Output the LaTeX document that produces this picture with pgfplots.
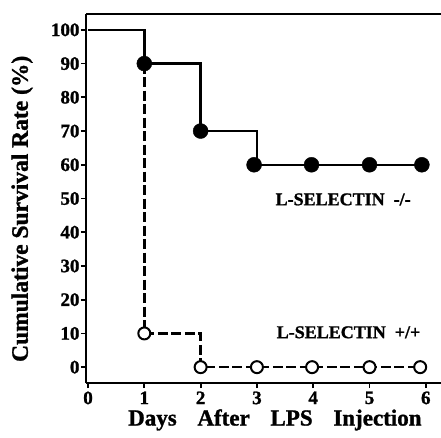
\documentclass[border=0pt]{standalone}
\usepackage{fontspec}
\setmainfont{Liberation Serif}[BoldFeatures={FakeBold=1.2}]
\usepackage{pgfplots}
\pgfplotsset{compat=1.18}

\begin{document}
\begin{tikzpicture}
\useasboundingbox (-86pt,-54pt) rectangle (355pt,383pt);
\begin{axis}[
  at={(0,0)}, anchor=south west,
  scale only axis, width=355pt, height=369pt,
  xmin=-0.036, xmax=6.27, ymin=-4.7, ymax=104.7,
  axis x line=box, axis y line=left,
  axis line style={-, line width=2.2pt},
  xtick={0,1,2,3,4,5,6}, ytick={0,10,...,100},
  xtick pos=lower, ytick pos=left,
  tick align=outside, major tick length=5pt,
  tick style={line width=1.8pt, black},
  /pgf/number format/assume math mode=true,
  ticklabel style={font=\bfseries\fontsize{19}{19}\selectfont},
  yticklabel style={xshift=2pt},
  xlabel={Days\hspace{0.9em}After\hspace{0.9em}LPS\hspace{0.9em}Injection},
  ylabel={Cumulative Survival Rate (\%)},
  xlabel style={font=\bfseries\fontsize{23}{23}\selectfont, at={(axis description cs:0.532,-0.1)}, anchor=center},
  ylabel style={font=\bfseries\fontsize{23.5}{23.5}\selectfont, at={(axis description cs:-0.18,0.472)}, anchor=center},
  clip=false,
]
% L-selectin -/- step line
\addplot[black, line width=2.4pt] coordinates {
  (0,100) (1,100) (1,90) (2,90) (2,70) (3,70) (3,60) (5.93,60)
};
% L-selectin +/+ step line
\addplot[black, line width=2.4pt, dash pattern=on 10pt off 3.5pt] coordinates {
  (1,90) (1,10) (2,10) (2,0) (5.9,0)
};
\addplot[only marks, mark=*, mark size=7.5pt, black, fill=black] coordinates {
  (1,90) (2,70) (2.95,60) (3.97,60) (5,60) (5.93,60)
};
\addplot[only marks, mark=*, mark size=6pt, black, fill=white, line width=2pt] coordinates {
  (1,10) (2,0) (3,0) (3.98,0) (5,0) (5.9,0)
};
\node[anchor=base west, font=\bfseries\fontsize{18}{18}\selectfont] at (axis cs:3.27,48) {L-SELECTIN\hspace{0.5em}-/-};
\node[anchor=base west, font=\bfseries\fontsize{18}{18}\selectfont] at (axis cs:3.29,8.6) {L-SELECTIN\hspace{0.5em}+/+};
\end{axis}
\end{tikzpicture}
\end{document}
